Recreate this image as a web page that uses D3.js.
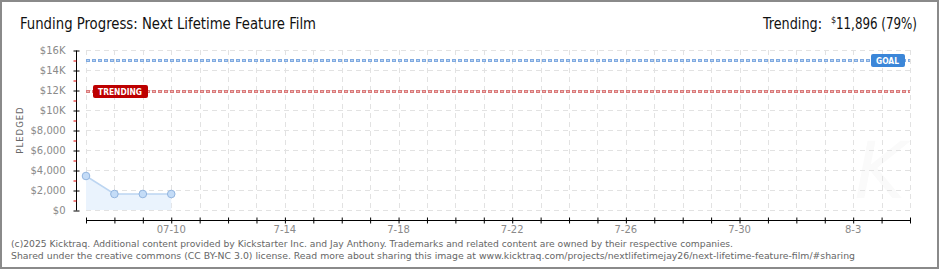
<!DOCTYPE html>
<html>
<head>
<meta charset="utf-8">
<script src="https://cdn.jsdelivr.net/npm/d3@7"></script>
<style>
  body { margin: 0; background: #fff; }
  svg { display: block; }
</style>
</head>
<body>
<div id="chart"></div>
<script>
// Chart data
var dates = ["2025-07-07", "2025-07-08", "2025-07-09", "2025-07-10"];
var pledged = [3400, 1600, 1600, 1600];
var goal = 15000;
var trending = 11896;
var trendingPct = 79;
var yTickValues = [0, 2000, 4000, 6000, 8000, 10000, 12000, 14000, 16000];
var yTickLabels = ["$0", "$2,000", "$4,000", "$6,000", "$8,000", "$10K", "$12K", "$14K", "$16K"];
var xLabelDates = ["2025-07-10", "2025-07-14", "2025-07-18", "2025-07-22", "2025-07-26", "2025-07-30", "2025-08-03"];
var xLabelText = ["07-10", "7-14", "7-18", "7-22", "7-26", "7-30", "8-3"];
var startDate = "2025-07-07";
var endDate = "2025-08-05";

var svgWidth = 940;
var svgHeight = 270;

var parse = d3.utcParse("%Y-%m-%d");

var svg = d3.select("#chart")
    .append("svg")
    .attr("width", svgWidth)
    .attr("height", svgHeight);

// outer frame
svg.append("rect")
    .attr("x", 1).attr("y", 1)
    .attr("width", 937).attr("height", 267)
    .attr("fill", "#fff")
    .attr("stroke", "#8a8a8a")
    .attr("stroke-width", 2);

// scales
var x = d3.scaleUtc()
    .domain([parse(startDate), parse(endDate)])
    .range([86, 910]);

var y = d3.scaleLinear()
    .domain([0, 16000])
    .range([210, 50]);

var days = d3.utcDay.range(parse(startDate), d3.utcDay.offset(parse(endDate), 1));

// faint watermark
svg.append("text")
    .attr("x", 880).attr("y", 198)
    .attr("text-anchor", "middle")
    .attr("font-family", "DejaVu Sans")
    .attr("font-style", "italic")
    .attr("font-size", 78)
    .attr("fill", "#fafafa")
    .text("K");

// grid
var grid = svg.append("g")
    .attr("stroke", "#e2e2e2")
    .attr("stroke-dasharray", "5,4");

grid.selectAll("line.h")
    .data(yTickValues)
    .enter().append("line")
    .attr("x1", x.range()[0]).attr("x2", x.range()[1])
    .attr("y1", d => y(d) + 0.5).attr("y2", d => y(d) + 0.5);

grid.selectAll("line.v")
    .data(days)
    .enter().append("line")
    .attr("x1", d => Math.round(x(d)) + 0.5).attr("x2", d => Math.round(x(d)) + 0.5)
    .attr("y1", y(16000)).attr("y2", y(0));

// area and line
var points = dates.map((d, i) => ({ date: parse(d), value: pledged[i] }));

svg.append("path")
    .datum(points)
    .attr("fill", "#eaf3fd")
    .attr("d", d3.area().x(d => x(d.date)).y0(y(0)).y1(d => y(d.value)));

svg.append("path")
    .datum(points)
    .attr("fill", "none")
    .attr("stroke", "#bcd5f1")
    .attr("stroke-width", 1.5)
    .attr("d", d3.line().x(d => x(d.date)).y(d => y(d.value)));

svg.selectAll("circle.pt")
    .data(points)
    .enter().append("circle")
    .attr("cx", d => x(d.date))
    .attr("cy", d => y(d.value))
    .attr("r", 3.8)
    .attr("fill", "#c4dcf7")
    .attr("stroke", "#93b5df")
    .attr("stroke-width", 1);

// goal and trending lines
function dottedLine(value, outer, inner) {
    var yy = Math.round(y(value)) + 0.5;
    svg.append("line")
        .attr("x1", x.range()[0]).attr("x2", x.range()[1])
        .attr("y1", yy).attr("y2", yy)
        .attr("stroke", outer)
        .attr("stroke-width", 3)
        .attr("stroke-dasharray", "4,2");
    svg.append("line")
        .attr("x1", x.range()[0] + 1).attr("x2", x.range()[1])
        .attr("y1", yy).attr("y2", yy)
        .attr("stroke", inner)
        .attr("stroke-width", 1)
        .attr("stroke-dasharray", "2,4");
}
dottedLine(goal, "#80aae0", "#b8d2f2");
dottedLine(trending, "#d97a7a", "#f0b4b4");

// labels on the lines
function tag(px, value, w, fill, label) {
    var g = svg.append("g")
        .attr("transform", `translate(${px}, ${Math.round(y(value)) - 6})`);
    g.append("rect")
        .attr("width", w).attr("height", 13)
        .attr("rx", 2)
        .attr("fill", fill);
    g.append("text")
        .attr("x", 5).attr("y", 10)
        .attr("font-family", "DejaVu Sans")
        .attr("font-size", 8.5)
        .attr("font-weight", "bold")
        .attr("textLength", w - 11)
        .attr("lengthAdjust", "spacingAndGlyphs")
        .attr("fill", "#fff")
        .text(label);
}
tag(871, goal, 34, "#3b86d8", "GOAL");
tag(93, trending, 55, "#bd0000", "TRENDING");

// y axis
var leftAxis = d3.axisLeft(y)
    .tickValues(yTickValues)
    .tickFormat((d, i) => yTickLabels[i])
    .tickSize(3)
    .tickPadding(8);

var yAxisG = svg.append("g")
    .attr("transform", "translate(76.5, 0.5)")
    .call(leftAxis);
yAxisG.select(".domain").attr("stroke", "#000").attr("d", `M0,${y(16000)}V${y(0)}`);
yAxisG.selectAll(".tick line").attr("x1", -3).attr("x2", 3).attr("stroke", "#000");
yAxisG.selectAll(".tick text")
    .attr("font-family", "DejaVu Sans")
    .attr("font-size", 10)
    .attr("fill", "#8a8a8a");

// red minor ticks
var minorAxis = d3.axisLeft(y)
    .tickValues(d3.range(1000, 16000, 2000))
    .tickFormat("")
    .tickSize(3);
var minorG = svg.append("g")
    .attr("transform", "translate(76.5, 0.5)")
    .call(minorAxis);
minorG.select(".domain").remove();
minorG.selectAll(".tick line").attr("stroke", "#e00000");

// x axis
var bottomAxis = d3.axisBottom(x)
    .tickValues(days)
    .tickFormat("")
    .tickSize(3);
var xAxisG = svg.append("g")
    .attr("transform", "translate(0, 220.5)")
    .call(bottomAxis);
xAxisG.select(".domain").attr("stroke", "#000").attr("d", `M${x.range()[0]},0H${x.range()[1]}`);
xAxisG.selectAll(".tick line").attr("y1", -3).attr("y2", 3).attr("stroke", "#000");

svg.append("g").selectAll("text")
    .data(xLabelDates)
    .enter().append("text")
    .attr("x", d => x(parse(d)))
    .attr("y", 233)
    .attr("text-anchor", "middle")
    .attr("font-family", "DejaVu Sans")
    .attr("font-size", 10)
    .attr("fill", "#8a8a8a")
    .text((d, i) => xLabelText[i]);

// y axis title
svg.append("text")
    .attr("transform", "translate(23, 130) rotate(-90)")
    .attr("text-anchor", "middle")
    .attr("font-family", "DejaVu Sans")
    .attr("font-size", 8.5)
    .attr("letter-spacing", 1)
    .attr("fill", "#666")
    .text("PLEDGED");

// titles
var titleFont = "DejaVu Sans Condensed, DejaVu Sans";
svg.append("text")
    .attr("x", 20).attr("y", 29)
    .attr("font-family", titleFont)
    .attr("font-size", 16)
    .attr("textLength", 296)
    .attr("lengthAdjust", "spacingAndGlyphs")
    .attr("fill", "#111")
    .text("Funding Progress: Next Lifetime Feature Film");

svg.append("text")
    .attr("x", 763).attr("y", 29)
    .attr("font-family", titleFont)
    .attr("font-size", 16)
    .attr("textLength", 59)
    .attr("lengthAdjust", "spacingAndGlyphs")
    .attr("fill", "#111")
    .text("Trending:");

svg.append("text")
    .attr("x", 831).attr("y", 23)
    .attr("font-family", titleFont)
    .attr("font-size", 9)
    .attr("fill", "#111")
    .text("$");

svg.append("text")
    .attr("x", 836).attr("y", 29)
    .attr("font-family", titleFont)
    .attr("font-size", 16)
    .attr("textLength", 81)
    .attr("lengthAdjust", "spacingAndGlyphs")
    .attr("fill", "#111")
    .text(d3.format(",")(trending) + " (" + trendingPct + "%)");

// footer
var footer = [
    "(c)2025 Kicktraq. Additional content provided by Kickstarter Inc. and Jay Anthony. Trademarks and related content are owned by their respective companies.",
    "Shared under the creative commons (CC BY-NC 3.0) license. Read more about sharing this image at www.kicktraq.com/projects/nextlifetimejay26/next-lifetime-feature-film/#sharing"
];
var footerLen = [722, 844];
svg.selectAll("text.foot")
    .data(footer)
    .enter().append("text")
    .attr("x", 11)
    .attr("y", (d, i) => 247 + i * 12)
    .attr("font-family", "DejaVu Sans")
    .attr("font-size", 9)
    .attr("textLength", (d, i) => footerLen[i])
    .attr("lengthAdjust", "spacingAndGlyphs")
    .attr("fill", "#666")
    .text(d => d);
</script>
</body>
</html>
